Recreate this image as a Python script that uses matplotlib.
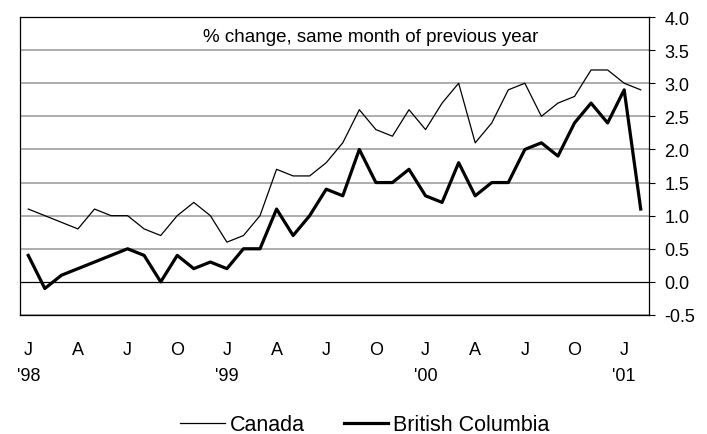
import matplotlib.pyplot as plt

plt.rcParams['font.family'] = ['Liberation Sans', 'DejaVu Sans']

# monthly, Jan 1998 to Feb 2001
canada = [1.1, 1.0, 0.9, 0.8, 1.1, 1.0, 1.0, 0.8, 0.7, 1.0, 1.2, 1.0,
          0.6, 0.7, 1.0, 1.7, 1.6, 1.6, 1.8, 2.1, 2.6, 2.3, 2.2, 2.6,
          2.3, 2.7, 3.0, 2.1, 2.4, 2.9, 3.0, 2.5, 2.7, 2.8, 3.2, 3.2,
          3.0, 2.9]
bc = [0.4, -0.1, 0.1, 0.2, 0.3, 0.4, 0.5, 0.4, 0.0, 0.4, 0.2, 0.3,
      0.2, 0.5, 0.5, 1.1, 0.7, 1.0, 1.4, 1.3, 2.0, 1.5, 1.5, 1.7,
      1.3, 1.2, 1.8, 1.3, 1.5, 1.5, 2.0, 2.1, 1.9, 2.4, 2.7, 2.4,
      2.9, 1.1]
month_letters = ['J', 'A', 'J', 'O']
years = ["'98", "'99", "'00", "'01"]

x = list(range(len(canada)))

fig = plt.figure(figsize=(7.07, 4.35), dpi=100)
ax = fig.add_axes([20 / 707, 1 - 316 / 435, 629 / 707, 298 / 435])

for y in [-0.5, 0.5, 1.0, 1.5, 2.0, 2.5, 3.0, 3.5]:
    ax.axhline(y, color='#a0a0a0', lw=1.2, zorder=1)
ax.axhline(0.0, color='black', lw=0.9, zorder=1)

ax.plot(x, canada, color='black', lw=0.9, label='Canada', zorder=3)
ax.plot(x, bc, color='black', lw=2.3, label='British Columbia', zorder=3)

ax.set_xlim(-0.5, len(canada) - 0.5)
ax.set_ylim(-0.5, 4.0)
ax.set_yticks([-0.5 + 0.5 * i for i in range(10)])
ax.set_yticklabels(['%.1f' % (-0.5 + 0.5 * i) for i in range(10)])
ax.yaxis.tick_right()
ax.tick_params(axis='y', length=4, width=0.8, pad=7, labelsize=13)

ticks = list(range(0, len(canada), 3))
labels = []
for t in ticks:
    s = month_letters[(t // 3) % 4]
    if t % 12 == 0:
        s += '\n' + years[t // 12]
    labels.append(s)
ax.set_xticks(ticks)
ax.set_xticklabels(labels, linespacing=1.75)
ax.tick_params(axis='x', length=0, pad=18.5, labelsize=13)

for sp in ax.spines.values():
    sp.set_color('black')
    sp.set_linewidth(0.9)

ax.text(0.558, 0.933, '% change, same month of previous year',
        transform=ax.transAxes, ha='center', va='center', fontsize=13.5)

fig.legend(loc='center', bbox_to_anchor=(365 / 707, 1 - 426 / 435),
           ncol=2, frameon=False, fontsize=15.5, handlelength=2.05,
           handletextpad=0.25, columnspacing=1.8, borderpad=0)

fig.savefig('out.png', dpi=100)
